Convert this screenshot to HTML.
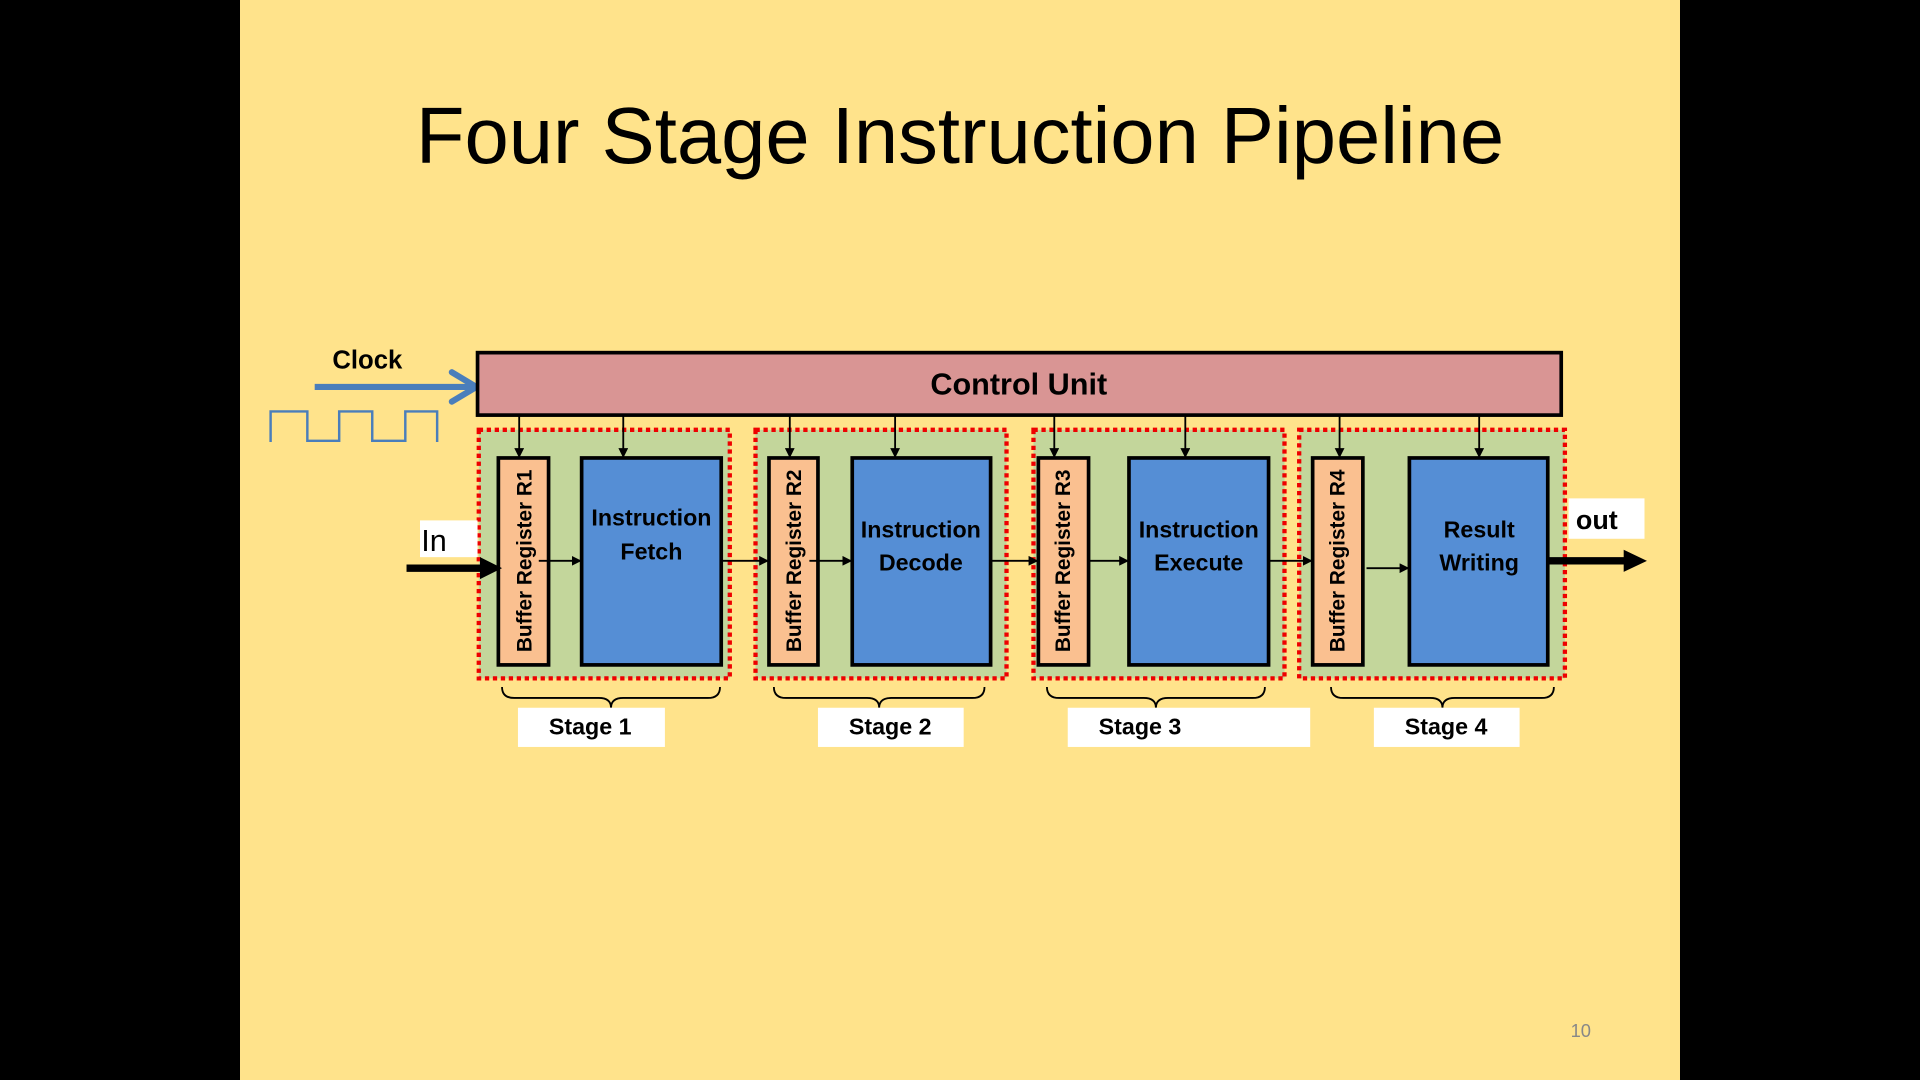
<!DOCTYPE html>
<html><head><meta charset="utf-8"><style>
html,body{margin:0;padding:0;background:#000;width:1920px;height:1080px;overflow:hidden}
svg{display:block}
text{font-family:"Liberation Sans",sans-serif}
</style></head><body>
<svg width="1920" height="1080" viewBox="0 0 1568 882" xmlns="http://www.w3.org/2000/svg">
<defs>
<marker id="a" markerWidth="8" markerHeight="8" refX="7" refY="4" orient="auto" markerUnits="userSpaceOnUse"><path d="M0,0 L8,4 L0,8 z" fill="#000"/></marker>
</defs>
<rect x="0" y="0" width="1568" height="882" fill="#000"/>
<rect x="196" y="0" width="1176" height="882" fill="#FFE38B"/>
<text x="784" y="133" font-size="65" text-anchor="middle" fill="#000">Four Stage Instruction Pipeline</text>
<text x="300" y="301" font-size="21" font-weight="bold" text-anchor="middle">Clock</text>
<line x1="257" y1="316" x2="386" y2="316" stroke="#4A7EBB" stroke-width="5"/>
<path d="M369,304 L389,316 L369,328" fill="none" stroke="#4A7EBB" stroke-width="5" stroke-linecap="round"/>
<path d="M221,361 V336 H251 V360 H277 V336 H304 V360 H331 V336 H357 V361" fill="none" stroke="#4A7EBB" stroke-width="2"/>
<rect x="390" y="288" width="885" height="51" fill="#D99594" stroke="#000" stroke-width="3"/>
<text x="832" y="322" font-size="25" font-weight="bold" text-anchor="middle">Control Unit</text>
<g stroke="#E00" stroke-width="3.5" stroke-dasharray="3.5,3" fill="#C3D69B">
<rect x="391" y="351" width="205" height="203"/>
<rect x="617" y="351" width="205" height="203"/>
<rect x="844" y="351" width="205" height="203"/>
<rect x="1061" y="351" width="217" height="203"/>
</g>
<g stroke="#000" stroke-width="3">
<rect x="407" y="374" width="41" height="169" fill="#FAC090"/>
<rect x="475" y="374" width="114" height="169" fill="#558ED5"/>
<rect x="628" y="374" width="40" height="169" fill="#FAC090"/>
<rect x="696" y="374" width="113" height="169" fill="#558ED5"/>
<rect x="848" y="374" width="41" height="169" fill="#FAC090"/>
<rect x="922" y="374" width="114" height="169" fill="#558ED5"/>
<rect x="1072" y="374" width="41" height="169" fill="#FAC090"/>
<rect x="1151" y="374" width="113" height="169" fill="#558ED5"/>
</g>
<g stroke="#000" stroke-width="1.5" marker-end="url(#a)">
<line x1="424" y1="340" x2="424" y2="373"/>
<line x1="509" y1="340" x2="509" y2="373"/>
<line x1="645" y1="340" x2="645" y2="373"/>
<line x1="731" y1="340" x2="731" y2="373"/>
<line x1="861" y1="340" x2="861" y2="373"/>
<line x1="968" y1="340" x2="968" y2="373"/>
<line x1="1094" y1="340" x2="1094" y2="373"/>
<line x1="1208" y1="340" x2="1208" y2="373"/>
<line x1="440" y1="458" x2="474" y2="458"/>
<line x1="590" y1="458" x2="627" y2="458"/>
<line x1="661" y1="458" x2="695" y2="458"/>
<line x1="810" y1="458" x2="847" y2="458"/>
<line x1="889" y1="458" x2="921" y2="458"/>
<line x1="1037" y1="458" x2="1071" y2="458"/>
<line x1="1116" y1="464" x2="1150" y2="464"/>
</g>
<g font-size="17" font-weight="bold" fill="#000">
<text transform="translate(428,458) rotate(-90)" text-anchor="middle" dy="6">Buffer Register R1</text>
<text transform="translate(648,458) rotate(-90)" text-anchor="middle" dy="6">Buffer  Register R2</text>
<text transform="translate(868,458) rotate(-90)" text-anchor="middle" dy="6">Buffer  Register R3</text>
<text transform="translate(1092,458) rotate(-90)" text-anchor="middle" dy="6">Buffer Register  R4</text>
</g>
<g font-size="19" font-weight="bold" text-anchor="middle" fill="#000">
<text x="532" y="429">Instruction</text><text x="532" y="457">Fetch</text>
<text x="752" y="439">Instruction</text><text x="752" y="466">Decode</text>
<text x="979" y="439">Instruction</text><text x="979" y="466">Execute</text>
<text x="1208" y="439">Result</text><text x="1208" y="466">Writing</text>
</g>
<rect x="343" y="425" width="47" height="30" fill="#fff"/>
<text x="344" y="450" font-size="25">In</text>
<line x1="332" y1="464" x2="394" y2="464" stroke="#000" stroke-width="6"/>
<path d="M392,455 L410,464 L392,473 z" fill="#000"/>
<rect x="1281" y="407" width="62" height="33" fill="#fff"/>
<text x="1287" y="432" font-size="22" font-weight="bold">out</text>
<line x1="1265" y1="458" x2="1328" y2="458" stroke="#000" stroke-width="6"/>
<path d="M1326,449 L1345,458 L1326,467 z" fill="#000"/>
<g fill="none" stroke="#000" stroke-width="1.5">
<path d="M410,561 q0,9 10,9 h69 q10,0 10,8 q0,-8 10,-8 h69 q10,0 10,-9"/>
<path d="M632,561 q0,9 10,9 h66 q10,0 10,8 q0,-8 10,-8 h66 q10,0 10,-9"/>
<path d="M855,561 q0,9 10,9 h69 q10,0 10,8 q0,-8 10,-8 h69 q10,0 10,-9"/>
<path d="M1087,561 q0,9 10,9 h71 q10,0 10,8 q0,-8 10,-8 h71 q10,0 10,-9"/>
</g>
<g fill="#fff">
<rect x="423" y="578" width="120" height="32"/>
<rect x="668" y="578" width="119" height="32"/>
<rect x="872" y="578" width="198" height="32"/>
<rect x="1122" y="578" width="119" height="32"/>
</g>
<g font-size="19" font-weight="bold" text-anchor="middle" fill="#000">
<text x="482" y="600">Stage 1</text>
<text x="727" y="600">Stage 2</text>
<text x="931" y="600">Stage 3</text>
<text x="1181" y="600">Stage 4</text>
</g>
<text x="1291" y="847" font-size="15" fill="#888" text-anchor="middle">10</text>
</svg>
</body></html>
